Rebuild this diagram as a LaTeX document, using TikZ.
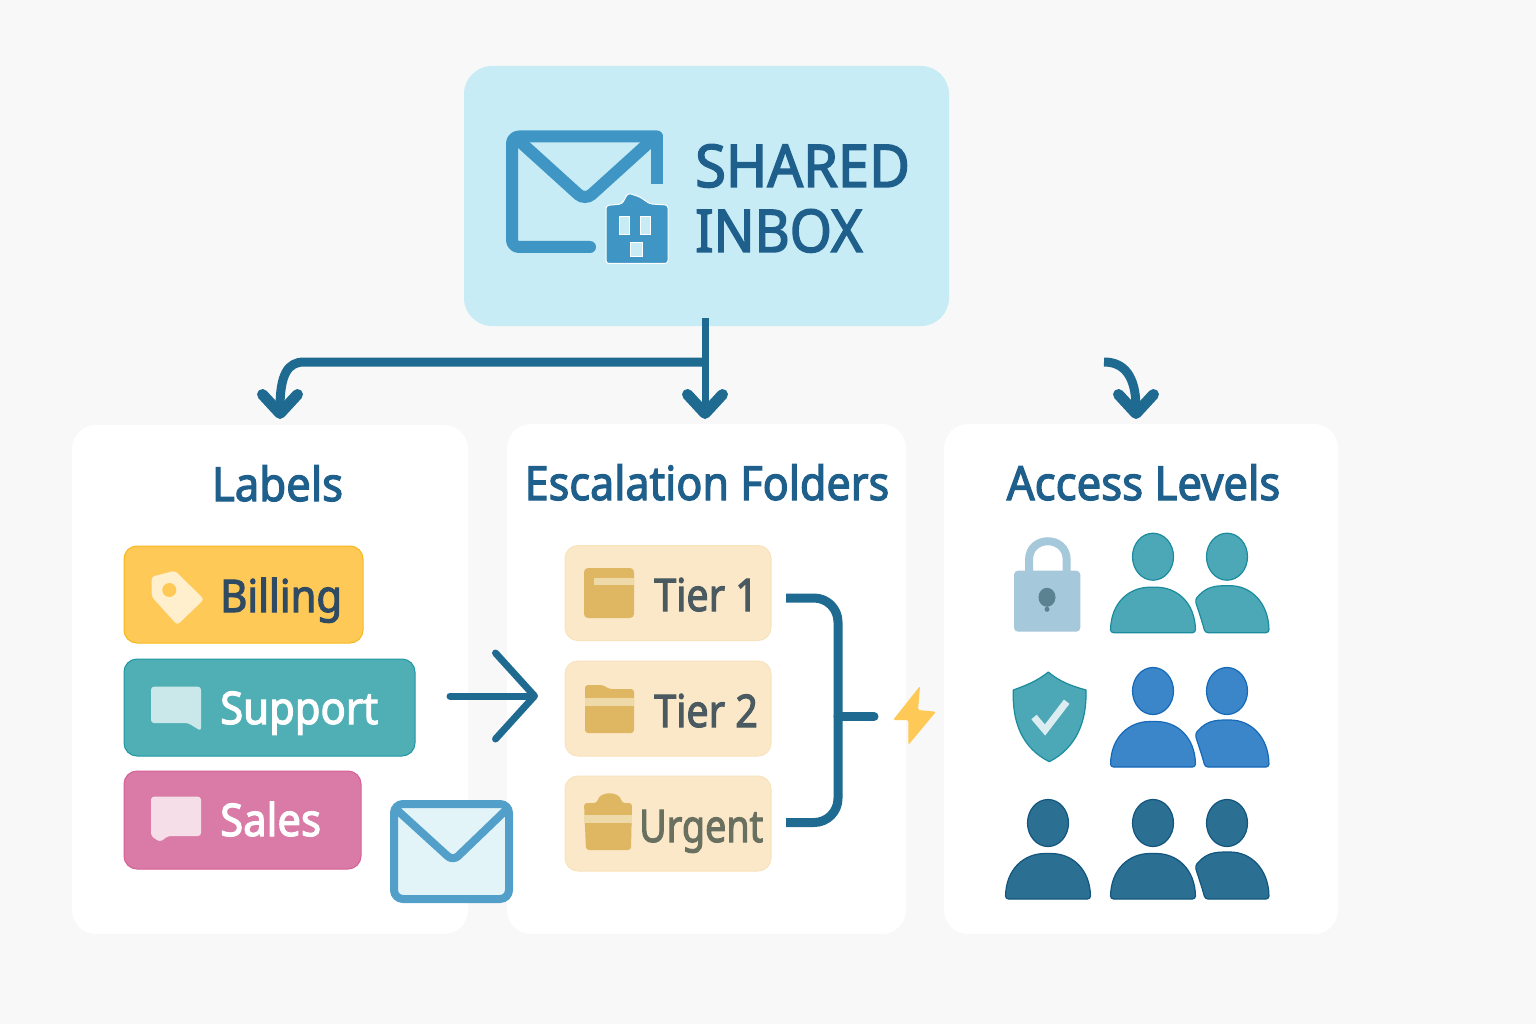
\documentclass[tikz,border=0pt]{standalone}
\usepackage{fontspec}
\setmainfont{Noto Sans}[FakeStretch=0.93,FakeBold=2.5]
\usetikzlibrary{arrows.meta}
\definecolor{pagebg}{HTML}{F8F8F8}
\definecolor{inboxbg}{HTML}{C7ECF6}
\definecolor{navy}{HTML}{1F5F8B}
\definecolor{flowblue}{HTML}{1F6A90}
\definecolor{mailblue}{HTML}{3F95C4}
\definecolor{mailpale}{HTML}{E2F4F8}
\definecolor{billingbg}{HTML}{FEC957}
\definecolor{billingedge}{HTML}{F8B81C}
\definecolor{billingink}{HTML}{2F4A63}
\definecolor{supportbg}{HTML}{50AEB5}
\definecolor{supportedge}{HTML}{1F98A3}
\definecolor{salesbg}{HTML}{D97BA6}
\definecolor{salesedge}{HTML}{D85F98}
\definecolor{tierbg}{HTML}{FAE8C8}
\definecolor{tieredge}{HTML}{F8E3BC}
\definecolor{tierink}{HTML}{4A5A60}
\definecolor{urgentink}{HTML}{6A7060}
\definecolor{foldertan}{HTML}{DFB662}
\definecolor{folderband}{HTML}{EED9A8}
\definecolor{lockblue}{HTML}{A5C9DA}
\definecolor{lockdark}{HTML}{5B8290}
\definecolor{teal}{HTML}{4CA7B6}
\definecolor{tealedge}{HTML}{1A8C9E}
\definecolor{midblue}{HTML}{3B86C9}
\definecolor{midedge}{HTML}{1668B8}
\definecolor{deepblue}{HTML}{2B7092}
\definecolor{deepedge}{HTML}{12557E}
\newcommand{\personfront}[4]{%
  \filldraw[fill=#3,draw=#4,line width=1.2pt,line join=round]
    (#1,#2) ++(0,-76) ellipse [x radius=20.5pt,y radius=23.5pt];
  \filldraw[fill=#3,draw=#4,line width=1.2pt,line join=round,rounded corners=3pt]
    (#1,#2) -- ++(-42.5,0) .. controls +(0.5,-30) and +(-24,0) .. ++(42.5,-45.5)
    .. controls +(24,0) and +(-0.5,-30) .. ++(42.5,45.5) -- cycle;}
\newcommand{\personback}[4]{%
  \filldraw[fill=#3,draw=#4,line width=1.2pt,line join=round]
    (#1,#2) ++(0,-76) ellipse [x radius=20.5pt,y radius=23.5pt];
  \filldraw[fill=#3,draw=#4,line width=1.2pt,line join=round,rounded corners=3pt]
    (#1,#2) -- ++(-22,0) .. controls +(-3,-12) and +(3,10) .. ++(-10,-33)
    .. controls +(8,-9) and +(-18,0) .. ++(32,-14)
    .. controls +(24,0) and +(-0.5,-30) .. ++(42,47) -- cycle;}
\begin{document}
\begin{tikzpicture}
    [x=1pt,y=-1pt,
     card/.style={fill=white,rounded corners=24pt,inner sep=0,outer sep=0},
     cardtitle/.style={text=navy,font=\fontsize{47}{47}\selectfont,anchor=base,inner sep=0},
     tagbox/.style={rounded corners=13pt,line width=1pt,inner sep=0,outer sep=0,minimum height=97pt},
     tiertag/.style={tagbox,fill=tierbg,draw=tieredge,minimum width=206pt,minimum height=95pt},
     tagtext/.style={font=\fontsize{45}{45}\selectfont,anchor=base west,inner sep=0},
     inboxtext/.style={text=navy,font=\fontsize{59}{59}\selectfont,anchor=base west,inner sep=0},
     flow/.style={draw=flowblue,line width=9pt,-{Straight Barb[length=19pt,width=35pt,line width=11pt,round]},line join=round},
     trunk/.style={draw=flowblue,line width=9pt,line join=round}]
    \useasboundingbox (0,0) rectangle (1536,1024);
    \fill[pagebg] (0,0) rectangle (1536,1024);
    \node[fill=inboxbg,rounded corners=28pt,inner sep=0,outer sep=0,minimum width=485pt,minimum height=260pt] (inbox) at (706.5,196) {};
    \node[card,minimum width=396pt,minimum height=509pt] (labels) at (270,679.5) {};
    \node[card,minimum width=399pt,minimum height=510pt] (folders) at (706.5,679) {};
    \node[card,minimum width=394pt,minimum height=510pt] (access) at (1141,679) {};
    \coordinate (tap) at (705,318);
    \coordinate (branch) at (705,362);
    \coordinate (bend) at (304,362);
    \coordinate (labelsin) at (280,419);
    \coordinate (foldersin) at (705,419);
    \coordinate (accessfrom) at (1104,362);
    \coordinate (accessin) at (1136,419);
    \draw[flow] (branch) -- (bend) .. controls (288,362) and (280,374) .. (labelsin);
    \draw[flow,line width=7pt] (tap) -- (foldersin);
    \draw[flow] (accessfrom) .. controls (1124,362) and (1136,376) .. (accessin);
    % mailbox icon
    \draw[mailblue,line width=12pt,line join=round,line cap=round,rounded corners=7pt] (590,247) -- (512,247) -- (512,136.5) -- (657,136.5);
    \draw[mailblue,line width=12pt,line join=round] (657,136.5) -- (657,184);
    \draw[mailblue,line width=12pt,rounded corners=9pt] (516,138) -- (585,200.5) -- (654,138);
    \filldraw[fill=mailblue,draw=white,line width=1pt,rounded corners=3pt] (606,263.5) -- (668,263.5) -- (668,205) -- (650,204) -- (640,197) -- (628,193) -- (622,204) -- (606,205.5) -- cycle;
    \filldraw[fill=inboxbg,draw=white,line width=1pt] (619,217) rectangle (629,235) (640,217) rectangle (650,235) (630,243) rectangle (642,257);
    \node[inboxtext] (shared) at (695,187) {\scalebox{1.02}[1]{SHARED}};
    \node[inboxtext] (inboxword) at (695,252) {\scalebox{.985}[1]{INBOX}};
    \node[cardtitle] (labelstitle) at (277.5,501) {Labels};
    \node[cardtitle] (folderstitle) at (707,500) {\scalebox{.987}[1]{Escalation Folders}};
    \node[cardtitle] (accesstitle) at (1143.5,500) {Access Levels};
    % labels
    \node[tagbox,fill=billingbg,draw=billingedge,minimum width=239pt] (billing) at (243.5,594.5) {};
    \node[tagbox,fill=supportbg,draw=supportedge,minimum width=291pt] (support) at (269.5,707.5) {};
    \node[tagbox,fill=salesbg,draw=salesedge,minimum width=237pt,minimum height=98pt] (sales) at (242.5,820) {};
    \fill[billingbg!30!white,rounded corners=3pt] (151.7,576.7) -- (175,570.7) -- (204,599.3) -- (177.3,625) -- (151.7,596.7) -- cycle;
    \fill[billingbg] (169.3,590) circle [radius=7pt];
    \fill[supportbg!30!white,rounded corners=3pt] (151,686.7) -- (201,686.7) -- (201,731) -- (188,723) -- (151,723) -- cycle;
    \fill[salesbg!25!white,rounded corners=3pt] (151,796.7) -- (201,796.7) -- (201,836) -- (168,836) -- (160,842) -- (151,836) -- cycle;
    \node[tagtext,text=billingink] (billingtext) at (220,612) {Billing};
    \node[tagtext,text=white] (supporttext) at (220,724) {Support};
    \node[tagtext,text=white] (salestext) at (220,836) {Sales};
    \coordinate (sortfrom) at (450,696);
    \coordinate (sortto) at (538,696);
    \draw[flowblue,line width=7pt,line cap=round,-{Straight Barb[length=39pt,width=86pt,round]}] (sortfrom) -- (sortto);
    % small envelope
    \filldraw[fill=mailpale,draw=mailblue!90!white,line width=8pt,rounded corners=9pt] (394,804) rectangle (509,899);
    \draw[mailblue!90!white,line width=8pt,line join=round,rounded corners=7pt] (397,810) -- (453,861) -- (506,810);
    % folders
    \node[tiertag] (tier1) at (668,593) {};
    \node[tiertag] (tier2) at (668,708.5) {};
    \node[tiertag] (urgent) at (668,823.5) {};
    \fill[foldertan,rounded corners=4pt] (584,568) rectangle (634,618);
    \fill[folderband] (594,578) rectangle (634,585);
    \fill[foldertan,rounded corners=3pt] (585,733) -- (585,685) -- (603,685) -- (609,689) -- (634,689) -- (634,733) -- cycle;
    \fill[folderband] (585,698) rectangle (634,706);
    \fill[foldertan,rounded corners=3pt] (586,850) -- (584,803) -- (597,803) .. controls (600,791) and (619,791) .. (622,803) -- (632,803) -- (631,850) -- cycle;
    \fill[folderband] (584,815) rectangle (632,823);
    \node[tagtext,text=tierink] (tier1text) at (654,611) {\scalebox{.945}[1]{Tier 1}};
    \node[tagtext,text=tierink] (tier2text) at (654,727) {\scalebox{.945}[1]{Tier 2}};
    \node[tagtext,text=urgentink] (urgenttext) at (639,842) {\scalebox{.9}[1]{Urgent}};
    \coordinate (bracetop) at (786,598);
    \coordinate (bracelow) at (786,822.5);
    \coordinate (bracemid) at (838,716.5);
    \coordinate (bolt) at (874,716.5);
    \draw[trunk,rounded corners=24pt] (bracetop) -- (838,598) -- (838,822.5) -- (bracelow);
    \draw[trunk,line cap=round] (bracemid) -- (bolt);
    \fill[billingbg,rounded corners=1.5pt] (920,686) -- (893,720) -- (908.3,720) -- (908.3,745) -- (936,711.7) -- (918,710) -- cycle;
    % access levels
    \draw[lockblue,line width=8pt] (1029,572) -- (1029,560) .. controls (1029,535) and (1066.7,535) .. (1066.7,560) -- (1066.7,572);
    \fill[lockblue,rounded corners=4pt] (1014,570.7) rectangle (1080.3,631.7);
    \fill[lockdark] (1047,597.3) ellipse [x radius=8.5pt,y radius=9.5pt];
    \fill[lockdark] (1047,609.3) circle [radius=2.5pt];
    \filldraw[fill=teal,draw=tealedge,line width=1.2pt,line join=round] (1048.3,672) .. controls (1036,682) and (1024,686) .. (1013.3,690) .. controls (1012,722) and (1022,748) .. (1049.3,761.7) .. controls (1076,748) and (1087,722) .. (1086,690) .. controls (1072,686) and (1060,682) .. (1048.3,672) -- cycle;
    \draw[teal!20!white,line width=7pt] (1034,717) -- (1045,730) -- (1066.7,701.7);
    \personfront{1153}{632.7}{teal}{tealedge}
    \personback{1227}{632.7}{teal}{tealedge}
    \personfront{1153}{767}{midblue}{midedge}
    \personback{1227}{767}{midblue}{midedge}
    \personfront{1048}{899}{deepblue}{deepedge}
    \personfront{1153}{899}{deepblue}{deepedge}
    \personback{1227}{899}{deepblue}{deepedge}
  \end{tikzpicture}
\end{document}
